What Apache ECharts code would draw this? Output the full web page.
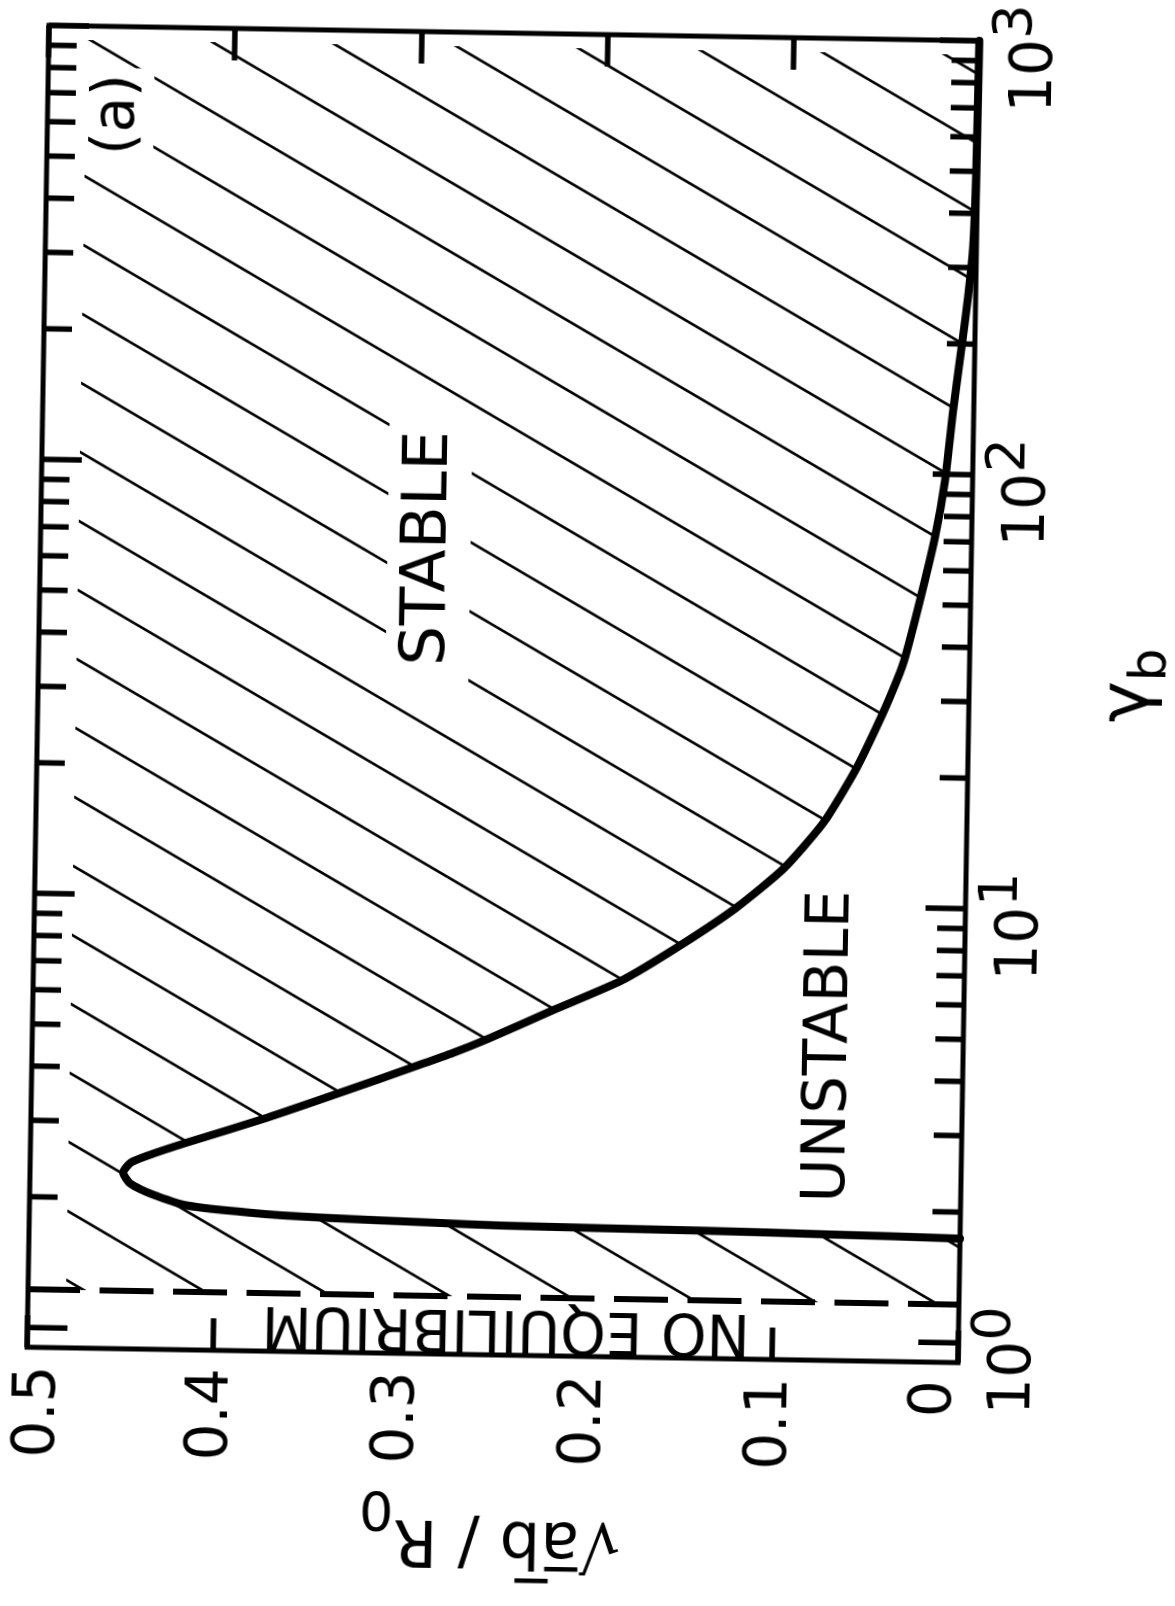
<!DOCTYPE html>
<html>
<head>
<meta charset="utf-8">
<title>Stability diagram, √ab/R0 against γb</title>
<style>
  html, body { margin: 0; padding: 0; background: #fff; overflow: hidden; }
  /* the drawing sits very slightly turned, about the centre of the frame */
  #chart { width: 1175px; height: 1606px; transform: rotate(0.95deg); transform-origin: 503px 694px; }
</style>
<script src="https://cdn.jsdelivr.net/npm/echarts@6/dist/echarts.min.js"></script>
</head>
<body>
<div id="chart"></div>
<script>
// ---- data -------------------------------------------------------------
// Stability boundary in the (√ab/R0, γb) plane, listed along the curve:
// the almost straight lower branch, the nose, then the upper branch that
// falls towards √ab/R0 = 0 at large γb.
const boundaryRatio = [0.000, 0.070, 0.140, 0.247, 0.283, 0.344, 0.382, 0.415,
  0.435, 0.446, 0.450, 0.446, 0.437, 0.416, 0.373, 0.334, 0.293, 0.274, 0.255,
  0.221, 0.184, 0.153, 0.123, 0.098, 0.077, 0.0605, 0.0466, 0.0383, 0.0347,
  0.0272, 0.0197, 0.0148, 0.0111, 0.0069, 0.0041, 0.0018, 0.0008, 0.0003];
const boundaryGamma = [1.738, 1.757, 1.773, 1.788, 1.805, 1.836, 1.874, 1.934,
  2.054, 2.162, 2.291, 2.418, 2.513, 2.702, 3.106, 3.568, 4.147, 4.45, 4.816,
  5.62, 6.63, 8.02, 9.86, 12.18, 15.6, 20.6, 27.7, 33.9, 37.7,
  51.1, 71.5, 96.8, 140, 200, 256, 334, 500, 1000];

// below this γb there is no equilibrium (dashed line)
const noEquilibriumGamma = 1.225;

// axes
const ratioRange = [0, 0.5];
const ratioStep = 0.1;
const gammaRange = [0.9, 1000];
const gammaMajorTicks = [1, 10, 100, 1000];
const gammaMinorTicks = [2, 3, 4, 5, 6, 7, 8, 9, 20, 30, 40, 50, 60, 70, 80, 90,
  200, 300, 400, 500, 600, 700, 800, 900];

// region names
const regionNames = ['STABLE', 'UNSTABLE', 'NO EQUILIBRIUM', '(a)'];

// ---- layout and style ---------------------------------------------------
const FONT = 'DejaVu Sans';
const INK = '#000';
// where each region name is anchored, in (√ab/R0, γb)
const regionLabelAt = [[0.2913, 64.5], [0.071, 4.76], [0.2431, 1.049], [0.4617, 627]];
const regionLabelStyle = [
  { rotate: 90, fontSize: 63, padding: [10, 16, 10, 16], bg: '#fff' },
  { rotate: 90, fontSize: 60, padding: 0, bg: null },
  { rotate: 180, fontSize: 58, lineHeight: 42, padding: [9, 4, 0, 4], bg: '#fff' },
  { rotate: 90, fontSize: 58, padding: 6, bg: '#fff' }
];
const HATCH_LEFT_GAP = 38;   // px kept clear next to the left frame
const HATCH_TOP_GAP = 14;    // px kept clear under the top frame

// diagonal hatching tile: one line per tile, slope 69/122
function hatchTile() {
  const w = 122, h = 69, c = 2;
  const cv = document.createElement('canvas');
  cv.width = w; cv.height = h;
  const g = cv.getContext('2d');
  g.strokeStyle = INK;
  g.lineWidth = 2.7;
  for (let k = -2; k <= 2; k++) {
    g.beginPath();
    g.moveTo(-w, c + h * k - h);
    g.lineTo(2 * w, c + h * k + 2 * h);
    g.stroke();
  }
  return cv;
}
const hatchPattern = { image: hatchTile(), repeat: 'repeat' };

function ratioLabel(v) {
  if (Math.abs(v) < 1e-9) return '{z|0}';
  if (Math.abs(v - ratioRange[1]) < 1e-9) return '{m|' + ratioRange[1] + '}';
  return String(Math.round(v * 10) / 10);
}
function powerLabel(value) {
  const e = Math.log10(value);
  const n = Math.round(e);
  if (Math.abs(e - n) > 1e-6) return '';
  return '{b|10}{s|' + n + '}{p| }';
}

const boundary = boundaryRatio.map((v, i) => [v, boundaryGamma[i]]);
const gammaTicks = gammaMajorTicks.concat(gammaMinorTicks).map(t => [0.25, t]);

const chart = echarts.init(document.getElementById('chart'), null, { renderer: 'canvas' });

chart.setOption({
  animation: false,
  backgroundColor: '#fff',
  grid: {
    left: 38, right: 206, top: 33, bottom: 251,
    show: true, borderColor: INK, borderWidth: 5, backgroundColor: 'transparent',
    outerBoundsMode: 'none'
  },
  xAxis: [
    {
      type: 'value', position: 'bottom', inverse: true,
      min: ratioRange[0], max: ratioRange[1], interval: ratioStep,
      axisLine: { show: false },
      splitLine: { show: false },
      axisTick: { show: true, inside: true, length: 32, lineStyle: { color: INK, width: 5.5 } },
      axisLabel: {
        rotate: 90, margin: 18, hideOverlap: false,
        fontFamily: FONT, fontSize: 58, color: INK,
        formatter: ratioLabel,
        rich: {
          z: { fontFamily: FONT, fontSize: 58, color: INK, padding: [0, 0, 44, 0] },
          m: { fontFamily: FONT, fontSize: 58, color: INK, padding: [26, 0, 0, 0] }
        }
      },
      name: '√{o|a\u0305b\u0305} / R{s|0}',
      nameLocation: 'middle', nameRotate: 180, nameGap: 126, nameMoveOverlap: false,
      nameTextStyle: {
        fontFamily: FONT, fontSize: 64, color: INK,
        rich: {
          o: { fontFamily: FONT, fontSize: 64, color: INK },
          s: { fontFamily: FONT, fontSize: 54, color: INK, lineHeight: 116,
               verticalAlign: 'bottom', padding: [62, 0, 0, 0] }
        }
      }
    },
    {
      type: 'value', position: 'top', inverse: true,
      min: ratioRange[0], max: ratioRange[1], interval: ratioStep,
      axisLine: { show: false },
      splitLine: { show: false },
      axisTick: { show: true, inside: true, length: 32, lineStyle: { color: INK, width: 5.5 } },
      axisLabel: { show: false }
    }
  ],
  yAxis: [
    {
      type: 'log', logBase: 10, position: 'right',
      min: gammaRange[0], max: gammaRange[1],
      axisLine: { show: false },
      axisTick: { show: false },
      minorTick: { show: false },
      splitLine: { show: false },
      axisLabel: {
        rotate: 90, margin: 10, hideOverlap: false, showMinLabel: false,
        fontFamily: FONT, fontSize: 58, color: INK,
        formatter: powerLabel,
        rich: {
          b: { fontFamily: FONT, fontSize: 58, color: INK, lineHeight: 94, verticalAlign: 'middle' },
          s: { fontFamily: FONT, fontSize: 54, color: INK, lineHeight: 58, verticalAlign: 'top' },
          p: { fontFamily: FONT, fontSize: 10, lineHeight: 10, width: 34 }
        }
      },
      name: '{g|γ}{s|b}',
      nameLocation: 'middle', nameRotate: 90, nameGap: 126, nameMoveOverlap: false,
      nameTextStyle: {
        fontFamily: FONT, fontSize: 70, color: INK, padding: [0, 0, 0, 38],
        rich: {
          g: { fontFamily: FONT, fontSize: 70, color: INK, lineHeight: 70, verticalAlign: 'top' },
          s: { fontFamily: FONT, fontSize: 52, color: INK, lineHeight: 82,
               verticalAlign: 'bottom', padding: [30, 0, 0, 0] }
        }
      }
    },
    {
      type: 'log', logBase: 10, position: 'left',
      min: gammaRange[0], max: gammaRange[1],
      axisLine: { show: false }, axisTick: { show: false },
      axisLabel: { show: false }, splitLine: { show: false }
    }
  ],
  series: [
    {
      // hatched (stable) part of the plane
      type: 'custom', name: 'stable', coordinateSystem: 'cartesian2d',
      xAxisIndex: 0, yAxisIndex: 0, silent: true, z: 1, clip: false,
      data: [[0.25, 10]],
      renderItem(params, api) {
        const cs = params.coordSys;
        const L = cs.x + HATCH_LEFT_GAP, R = cs.x + cs.width, T = cs.y + HATCH_TOP_GAP;
        const yDash = api.coord([0, noEquilibriumGamma])[1];
        const pts = [[L, yDash], [R, yDash]];
        boundary.forEach(p => {
          const q = api.coord(p);
          if (q[1] > T) pts.push(q);
        });
        pts.push([R, T], [L, T]);
        return { type: 'polygon', shape: { points: pts }, style: { fill: hatchPattern, stroke: null } };
      }
    },
    {
      type: 'line', name: 'no equilibrium', xAxisIndex: 0, yAxisIndex: 0, z: 3,
      data: [[ratioRange[1], noEquilibriumGamma], [ratioRange[0], noEquilibriumGamma]],
      symbol: 'none', silent: true,
      lineStyle: { color: INK, width: 6, type: [54, 19.5], dashOffset: 2 }
    },
    {
      type: 'line', name: 'boundary', xAxisIndex: 0, yAxisIndex: 0, z: 3,
      data: boundary, symbol: 'none', smooth: 0.2, silent: true,
      lineStyle: { color: INK, width: 8, cap: 'round', join: 'round' }
    },
    {
      // log ticks on both vertical sides of the frame, pointing inwards
      type: 'custom', name: 'gamma ticks', coordinateSystem: 'cartesian2d',
      xAxisIndex: 0, yAxisIndex: 0, silent: true, z: 4, clip: false,
      data: gammaTicks,
      renderItem(params, api) {
        const t = api.value(1);
        const len = gammaMajorTicks.indexOf(t) >= 0 ? 40 : 28;
        const pl = api.coord([ratioRange[1], t]);
        const pr = api.coord([ratioRange[0], t]);
        const st = { stroke: INK, lineWidth: 5.5 };
        return {
          type: 'group',
          children: [
            { type: 'line', shape: { x1: pl[0], y1: pl[1], x2: pl[0] + len, y2: pl[1] }, style: st },
            { type: 'line', shape: { x1: pr[0], y1: pr[1], x2: pr[0] - len, y2: pr[1] }, style: st }
          ]
        };
      }
    },
    {
      type: 'custom', name: 'regions', coordinateSystem: 'cartesian2d',
      xAxisIndex: 0, yAxisIndex: 0, silent: true, z: 5, clip: false,
      data: regionLabelAt,
      renderItem(params, api) {
        const i = params.dataIndex;
        const s = regionLabelStyle[i];
        const p = api.coord([api.value(0), api.value(1)]);
        const style = {
          text: regionNames[i], fontFamily: FONT, fontSize: s.fontSize, fill: INK,
          align: 'center', verticalAlign: 'middle', padding: s.padding
        };
        if (s.lineHeight) style.lineHeight = s.lineHeight;
        if (s.bg) style.backgroundColor = s.bg;
        return { type: 'text', x: p[0], y: p[1], rotation: s.rotate * Math.PI / 180, style };
      }
    }
  ]
});
</script>
</body>
</html>
